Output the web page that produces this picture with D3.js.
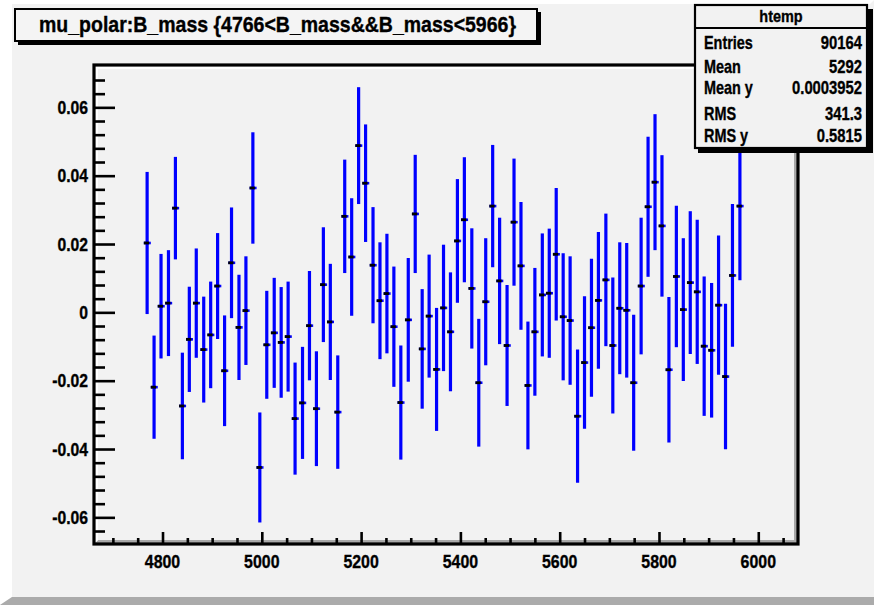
<!DOCTYPE html>
<html>
<head>
<meta charset="utf-8">
<script src="https://cdn.jsdelivr.net/npm/d3@7"></script>
<style>
  html, body { margin: 0; padding: 0; background: #f2f2f2; }
  svg { display: block; }
  text { font-family: "Liberation Sans", Arial, Helvetica, sans-serif; font-weight: bold; fill: #000; stroke: #000; stroke-width: 0.35px; }
</style>
</head>
<body>
<svg id="chart" width="874" height="605"></svg>
<script>
// ---------------- data ----------------
const titleText = "mu_polar:B_mass {4766<B_mass&&B_mass<5966}";
const statsName = "htemp";
const statsLabels = ["Entries", "Mean", "Mean y", "RMS", "RMS y"];
const statsValues = ["90164", "5292", "0.0003952", "341.3", "0.5815"];

const xDomain = [4662, 6080];
const yDomain = [-0.0678, 0.0721];
const xTicks = [4800, 5000, 5200, 5400, 5600, 5800, 6000];
const xTickLabels = ["4800", "5000", "5200", "5400", "5600", "5800", "6000"];
const xMinorTicks = [4700, 4750, 4850, 4900, 4950, 5050, 5100, 5150, 5250, 5300, 5350, 5450, 5500, 5550, 5650, 5700, 5750, 5850, 5900, 5950, 6050];
const yTicks = [-0.06, -0.04, -0.02, 0, 0.02, 0.04, 0.06];
const yTickLabels = ["-0.06", "-0.04", "-0.02", "0", "0.02", "0.04", "0.06"];
const yMinorTicks = [-0.064, -0.056, -0.052, -0.048, -0.044, -0.036, -0.032, -0.028, -0.024, -0.016, -0.012, -0.008, -0.004,
                     0.004, 0.008, 0.012, 0.016, 0.024, 0.028, 0.032, 0.036, 0.044, 0.048, 0.052, 0.056, 0.064, 0.068];

const mass = [4769, 4783, 4797, 4812, 4826, 4840, 4854, 4868, 4883, 4897,
              4911, 4925, 4939, 4954, 4968, 4982, 4996, 5010, 5025, 5039,
              5053, 5067, 5082, 5096, 5110, 5124, 5138, 5153, 5167, 5181,
              5195, 5209, 5224, 5238, 5252, 5266, 5280, 5295, 5309, 5323,
              5337, 5352, 5366, 5380, 5394, 5408, 5423, 5437, 5451, 5465,
              5479, 5494, 5508, 5522, 5536, 5550, 5565, 5579, 5593, 5607,
              5621, 5636, 5650, 5664, 5678, 5693, 5707, 5721, 5735, 5749,
              5764, 5778, 5792, 5806, 5820, 5835, 5849, 5863, 5877, 5891,
              5906, 5920, 5934, 5948, 5963];
const meanPolar = [0.0203, -0.0219, 0.0018, 0.0027, 0.0305, -0.0274, -0.0079, 0.0027, -0.0109, -0.0066,
                   0.0077, -0.0171, 0.0145, -0.0044, 0.0005, 0.0364, -0.0454, -0.0095, -0.0060, -0.0088,
                   -0.0071, -0.0311, -0.0265, -0.0039, -0.0282, 0.0081, -0.0028, -0.0292, 0.0281, 0.0162,
                   0.0488, 0.0378, 0.0138, 0.0034, 0.0055, -0.0042, -0.0264, -0.0022, 0.0288, -0.0107,
                   -0.0011, -0.0167, 0.0013, -0.0057, 0.0209, 0.0271, 0.0070, -0.0206, 0.0031, 0.0311,
                   0.0092, -0.0097, 0.0264, 0.0136, -0.0214, -0.0057, 0.0051, 0.0056, 0.0170, -0.0013,
                   -0.0024, -0.0304, -0.0147, -0.0045, 0.0035, 0.0095, -0.0097, 0.0012, 0.0006, -0.0206,
                   0.0077, 0.0309, 0.0381, 0.0253, -0.0168, 0.0105, 0.0008, 0.0087, 0.0060, -0.0099,
                   -0.0111, 0.0021, -0.0188, 0.0108, 0.0311];
const errPolar = [0.0208, 0.0151, 0.0153, 0.0155, 0.0150, 0.0156, 0.0154, 0.0160, 0.0155, 0.0156,
                  0.0155, 0.0162, 0.0162, 0.0154, 0.0159, 0.0163, 0.0161, 0.0158, 0.0161, 0.0162,
                  0.0161, 0.0164, 0.0164, 0.0160, 0.0168, 0.0168, 0.0170, 0.0166, 0.0166, 0.0172,
                  0.0171, 0.0172, 0.0170, 0.0171, 0.0175, 0.0176, 0.0167, 0.0181, 0.0173, 0.0175,
                  0.0180, 0.0180, 0.0185, 0.0174, 0.0181, 0.0183, 0.0176, 0.0187, 0.0186, 0.0179,
                  0.0185, 0.0177, 0.0186, 0.0187, 0.0187, 0.0187, 0.0180, 0.0189, 0.0194, 0.0186,
                  0.0188, 0.0195, 0.0194, 0.0202, 0.0200, 0.0194, 0.0199, 0.0193, 0.0197, 0.0199,
                  0.0200, 0.0205, 0.0199, 0.0207, 0.0213, 0.0207, 0.0209, 0.0209, 0.0211, 0.0204,
                  0.0197, 0.0204, 0.0213, 0.0209, 0.0217];

// ---------------- layout ----------------
const W = 874, H = 605;
const frame = { left: 94, right: 798, top: 65, bottom: 544 };
const svg = d3.select("#chart");

const x = d3.scaleLinear().domain(xDomain).range([frame.left, frame.right]);
const y = d3.scaleLinear().domain(yDomain).range([frame.bottom, frame.top + 1]);

// helper: condensed bold text
function ctext(g, str, px, py, size, anchor, sx) {
  return g.append("text")
    .attr("font-size", size)
    .attr("text-anchor", anchor)
    .attr("transform", `translate(${px},${py}) scale(${sx},1)`)
    .text(str);
}

// canvas background + bevel
svg.append("rect").attr("width", W).attr("height", H).attr("fill", "#f2f2f2");
svg.append("polygon").attr("points", `0,0 ${W},0 ${W - 4},4 12,4 12,${H - 8} 0,${H}`).attr("fill", "#ffffff");
svg.append("polygon").attr("points", `0,${H} 12,${H - 8} ${W},${H - 8} ${W},${H}`).attr("fill", "#ababab");

// frame bevel
const fb = svg.append("g");
fb.append("rect").attr("x", frame.left).attr("y", frame.top).attr("width", frame.right - frame.left).attr("height", frame.bottom - frame.top).attr("fill", "#f2f2f2");
fb.append("polygon").attr("points", `${frame.left},${frame.bottom} ${frame.right},${frame.bottom} ${frame.right},${frame.top} ${frame.right - 4},${frame.top + 4} ${frame.right - 4},${frame.bottom - 4} ${frame.left + 4},${frame.bottom - 4}`).attr("fill", "#a8a8a8");
fb.append("polygon").attr("points", `${frame.left},${frame.bottom} ${frame.left},${frame.top} ${frame.right},${frame.top} ${frame.right - 4},${frame.top + 4} ${frame.left + 4},${frame.top + 4} ${frame.left + 4},${frame.bottom - 4}`).attr("fill", "#ffffff");

// data: error bars and markers
const pts = mass.map((m, i) => ({ m, v: meanPolar[i], e: errPolar[i] }));
const gd = svg.append("g");
gd.selectAll("line.err").data(pts).enter().append("line")
  .attr("x1", d => x(d.m)).attr("x2", d => x(d.m))
  .attr("y1", d => y(d.v + d.e)).attr("y2", d => y(d.v - d.e))
  .attr("stroke", "#0000ff").attr("stroke-width", 3.2);
gd.selectAll("line.hx").data(pts).enter().append("line")
  .attr("x1", d => x(d.m) - 3.3).attr("x2", d => x(d.m) + 3.7)
  .attr("y1", d => y(d.v)).attr("y2", d => y(d.v))
  .attr("stroke", "#0000ff").attr("stroke-width", 2.6);
gd.selectAll("rect.mk").data(pts).enter().append("rect")
  .attr("x", d => x(d.m) - 3.3).attr("width", 5.3)
  .attr("y", d => y(d.v) - 1.4).attr("height", 2.8)
  .attr("fill", "#000000");

// axes ticks (d3 axes, drawn inward)
const xAxisMajor = d3.axisBottom(x).tickValues(xTicks).tickSize(-12).tickFormat("");
const xAxisMinor = d3.axisBottom(x).tickValues(xMinorTicks).tickSize(-6).tickFormat("");
const yAxisMajor = d3.axisLeft(y).tickValues(yTicks).tickSize(-21).tickFormat("");
const yAxisMinor = d3.axisLeft(y).tickValues(yMinorTicks).tickSize(-11).tickFormat("");
[
  svg.append("g").attr("transform", `translate(0,${frame.bottom})`).call(xAxisMajor),
  svg.append("g").attr("transform", `translate(0,${frame.bottom})`).call(xAxisMinor),
  svg.append("g").attr("transform", `translate(${frame.left},0)`).call(yAxisMajor),
  svg.append("g").attr("transform", `translate(${frame.left},0)`).call(yAxisMinor)
].forEach(g => {
  g.select(".domain").remove();
  g.selectAll(".tick line").attr("stroke", "#000").attr("stroke-width", 2.6);
});

// frame outline
svg.append("rect").attr("x", frame.left).attr("y", frame.top)
  .attr("width", frame.right - frame.left).attr("height", frame.bottom - frame.top)
  .attr("fill", "none").attr("stroke", "#000").attr("stroke-width", 3.2);

// tick labels
const gl = svg.append("g");
xTicks.forEach((t, i) => ctext(gl, xTickLabels[i], x(t), 568, 18.5, "middle", 0.86));
yTicks.forEach((t, i) => ctext(gl, yTickLabels[i], 88, y(t) + 6.6, 18.5, "end", 0.85));

// title box
const tb = svg.append("g");
tb.append("rect").attr("x", 18).attr("y", 12).attr("width", 523).attr("height", 33).attr("fill", "#000");
tb.append("rect").attr("x", 15).attr("y", 9).attr("width", 522).attr("height", 32)
  .attr("fill", "#f4f4f4").attr("stroke", "#000").attr("stroke-width", 2);
tb.append("text").attr("x", 39).attr("y", 31.5).attr("font-size", 21.5)
  .attr("textLength", 477).attr("lengthAdjust", "spacingAndGlyphs").text(titleText);

// stats box
const sb = svg.append("g");
sb.append("rect").attr("x", 698).attr("y", 9).attr("width", 175).attr("height", 144).attr("fill", "#000");
sb.append("rect").attr("x", 695).attr("y", 5).attr("width", 172).attr("height", 143)
  .attr("fill", "#f2f2f2").attr("stroke", "#000").attr("stroke-width", 2.2);
sb.append("line").attr("x1", 695).attr("x2", 867).attr("y1", 28).attr("y2", 28).attr("stroke", "#000").attr("stroke-width", 2);
ctext(sb, statsName, 781, 22, 17, "middle", 0.85);
const rowY = [49, 73, 94, 120, 142];
statsLabels.forEach((s, i) => {
  ctext(sb, s, 704, rowY[i], 18.5, "start", 0.78);
  ctext(sb, statsValues[i], 862, rowY[i], 18.5, "end", 0.8);
});
</script>
</body>
</html>
